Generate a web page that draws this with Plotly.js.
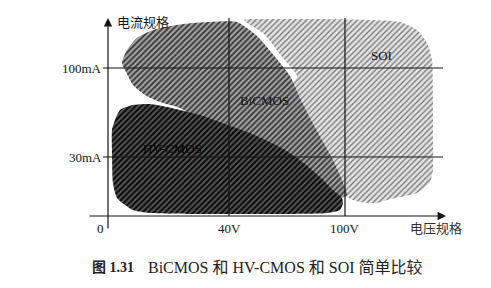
<!DOCTYPE html>
<html>
<head>
<meta charset="utf-8">
<script src="https://cdn.plot.ly/plotly-3.0.1.min.js"></script>
<style>html,body{margin:0;padding:0;background:#fff;}#chart{width:491px;height:288px;}</style>
</head>
<body>
<div id="chart"></div>
<script>
// Schematic axes: voltage (x) and current (y) in drawing units
const voltTicks = [0, 121, 237];
const voltLabels = ['0', '40V', '100V'];
const currTicks = [59, 148];
const currLabels = ['30mA', '100mA'];
const xAxisTitle = '电压规格';
const yAxisTitle = '电流规格';
const captionNum = '图 1.31';
const captionText = 'BiCMOS\u00A0和\u00A0HV-CMOS\u00A0和\u00A0SOI\u00A0简单比较';

// Region outlines (schematic units)
const soiX = [136, 162, 212, 262, 292, 309, 319, 324, 325, 325, 325, 322, 309, 292, 279, 269, 252, 239, 217, 187, 184, 189, 175, 156];
const soiY = [196, 197, 197, 196, 194, 186, 173, 156, 116, 76, 46, 34, 23, 19, 16, 13, 14, 19, 46, 106, 131, 140, 158, 182];
const bicmosX = [14, 19, 29, 45, 75, 102, 129, 149, 168, 182, 192, 202, 214, 225, 234, 239, 222, 142, 72, 52, 37, 25, 18];
const bicmosY = [153, 166, 178, 186, 192, 194, 194, 180, 158, 140, 118, 98, 76, 56, 36, 21, 16, 66, 108, 114, 121, 131, 144];
const hvX = [25, 42, 59, 92, 120, 142, 172, 192, 212, 225, 234, 235, 232, 219, 172, 92, 42, 25, 9, 5, 4, 4, 7, 12];
const hvY = [111, 112, 109, 101, 91, 83, 69, 56, 39, 26, 18, 13, 6, 3, 2, 2, 3, 6, 18, 33, 66, 86, 96, 106];
const regionNames = ['SOI', 'BiCMOS', 'HV-CMOS'];
const labelX = [273, 156, 64];
const labelY = [161, 116, 68];

const serif = '"Liberation Serif", "Noto Sans CJK SC", serif';
const ink = '#151515';

function region(x, y, name, fg, bg, sol) {
  return {
    type: 'scatter', mode: 'lines', x: x.concat([x[0]]), y: y.concat([y[0]]),
    fill: 'toself', name: name, hoverinfo: 'skip',
    line: {width: 0, color: bg, shape: 'spline', smoothing: 0.6},
    fillcolor: bg,
    fillpattern: {shape: '/', fgcolor: fg, bgcolor: bg, size: 4, solidity: sol}
  };
}

const traces = [
  region(soiX, soiY, regionNames[0], '#7a7a7a', '#e4e4e4', 0.35),
  region(bicmosX, bicmosY, regionNames[1], '#3c3c3c', '#a8a8a8', 0.5),
  region(hvX, hvY, regionNames[2], '#0c0c0c', '#5c5c5c', 0.55)
];

const xMin = -20, xMax = 338, yMin = -14, yMax = 198;
const shapes = [];
for (let i = 1; i < voltTicks.length; i++) {
  shapes.push({type: 'line', xref: 'x', yref: 'y', x0: voltTicks[i], x1: voltTicks[i], y0: 0, y1: 199,
    line: {color: ink, width: 1.2}});
}
currTicks.forEach(function (v) {
  shapes.push({type: 'line', xref: 'x', yref: 'y', x0: -5, x1: 335, y0: v, y1: v,
    line: {color: ink, width: 1.2}});
});

const annotations = [];
// axes with arrows
annotations.push({x: xMax, y: 0, ax: xMin, ay: 0, axref: 'x', ayref: 'y', xref: 'x', yref: 'y',
  text: '', showarrow: true, arrowhead: 2, arrowsize: 1.4, arrowwidth: 1.2, arrowcolor: ink});
annotations.push({x: 0, y: yMax, ax: 0, ay: yMin, axref: 'x', ayref: 'y', xref: 'x', yref: 'y',
  text: '', showarrow: true, arrowhead: 2, arrowsize: 1.4, arrowwidth: 1.2, arrowcolor: ink});
// tick labels
voltTicks.forEach(function (v, i) {
  annotations.push({x: v, y: -12, xref: 'x', yref: 'y', text: voltLabels[i], showarrow: false,
    xanchor: i === 0 ? 'right' : 'center', xshift: i === 0 ? -2 : 0, yanchor: 'middle',
    font: {family: serif, size: 13, color: ink}});
});
currTicks.forEach(function (v, i) {
  annotations.push({x: 0, y: v, xref: 'x', yref: 'y', text: currLabels[i], showarrow: false,
    xanchor: 'right', xshift: -4, yanchor: 'middle', font: {family: serif, size: 13, color: ink}});
});
annotations.push({x: 7, y: 194, xref: 'x', yref: 'y', text: yAxisTitle, showarrow: false,
  xanchor: 'left', yanchor: 'middle', font: {family: serif, size: 13, color: ink}});
annotations.push({x: 328, y: -12, xref: 'x', yref: 'y', text: xAxisTitle, showarrow: false,
  xanchor: 'center', yanchor: 'middle', font: {family: serif, size: 13, color: '#333'}});
// region labels
regionNames.forEach(function (n, i) {
  annotations.push({x: labelX[i], y: labelY[i], xref: 'x', yref: 'y', text: n, showarrow: false,
    xanchor: 'center', yanchor: 'middle', font: {family: serif, size: 13, color: i === 2 ? '#050505' : ink}});
});
// caption (below the plot area)
annotations.push({x: -18, y: -0.175, xref: 'x', yref: 'paper', text: '<b>' + captionNum + '</b>', showarrow: false,
  xanchor: 'left', yanchor: 'middle', font: {family: serif, size: 14, color: '#222'}});
annotations.push({x: 38, y: -0.175, xref: 'x', yref: 'paper', text: captionText, showarrow: false,
  xanchor: 'left', yanchor: 'middle', font: {family: serif, size: 16, color: '#222'}});

const layout = {
  width: 491, height: 288,
  margin: {l: 88, r: 45, t: 18, b: 58, pad: 0},
  paper_bgcolor: '#ffffff', plot_bgcolor: '#ffffff',
  showlegend: false,
  xaxis: {range: [xMin, xMax], showgrid: false, zeroline: false, showticklabels: false, showline: false, ticks: '', fixedrange: true},
  yaxis: {range: [yMin, yMax], showgrid: false, zeroline: false, showticklabels: false, showline: false, ticks: '', fixedrange: true},
  shapes: shapes,
  annotations: annotations
};

Plotly.newPlot('chart', traces, layout, {displayModeBar: false, staticPlot: true});
</script>
</body>
</html>
